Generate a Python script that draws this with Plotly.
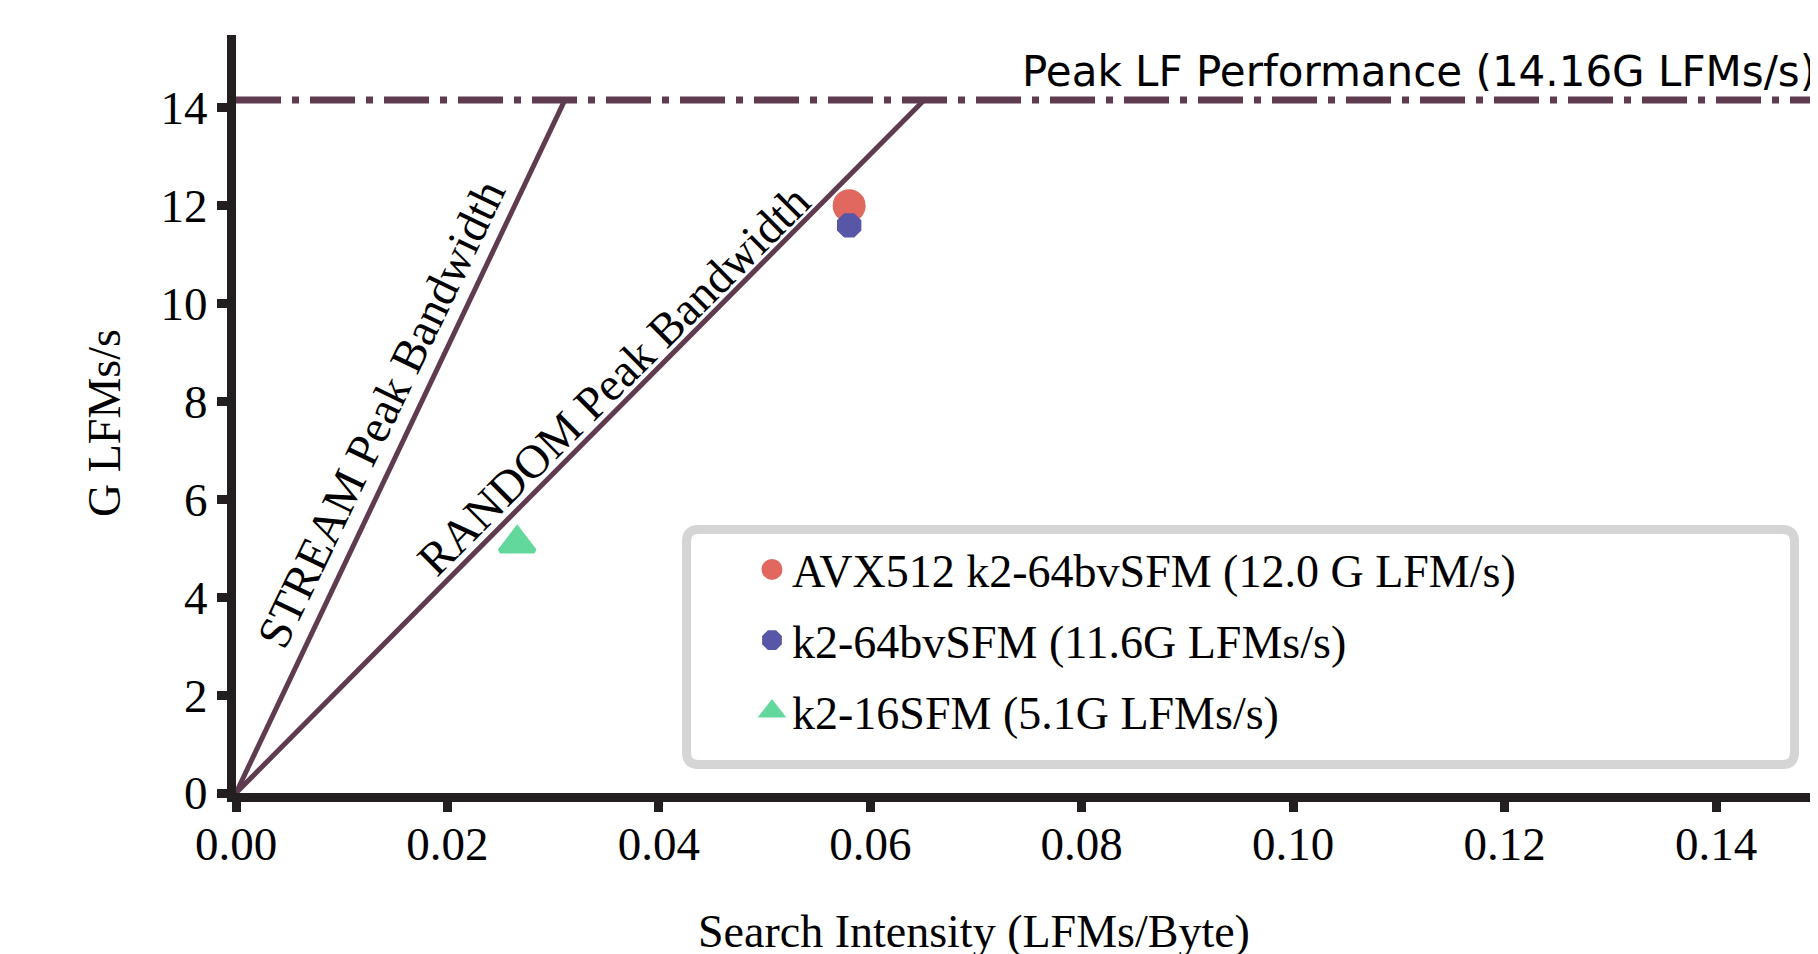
import plotly.graph_objects as go

# ---- data ----
peak_perf = 14.16
peak_x = [0.0, 0.1504]
peak_y = [peak_perf, peak_perf]
stream_x = [0.0, 0.0311]
stream_y = [0.0, 14.16]
random_x = [0.0, 0.0651]
random_y = [0.0, 14.16]

series_names = ["AVX512 k2-64bvSFM (12.0 G LFM/s)",
                "k2-64bvSFM (11.6G LFMs/s)",
                "k2-16SFM (5.1G LFMs/s)"]
series_x = [0.058, 0.058, 0.0266]
series_y = [12.0, 11.6, 5.1]
series_colors = ["#e0685e", "#5856a6", "#63d89d"]
series_symbols = ["circle", "octagon", "triangle-up"]
series_sizes = [28, 21, 30]

x_ticks = [0.00, 0.02, 0.04, 0.06, 0.08, 0.10, 0.12, 0.14]
y_ticks = [0, 2, 4, 6, 8, 10, 12, 14]

LINE = "#5e3b4e"
AXIS = "#231f20"
SERIF = "Liberation Serif, Times New Roman, serif"

# layout geometry (screen pixels; page body has an 8px offset)
OFF = 8
W, H = 1818, 954
L, T, B = 236 - OFF, 35 - OFF, 954 - (793 - OFF)
PW, PH = W - L, H - T - B


def px(sx):
    return (sx - 236) / PW


def py(sy):
    return (793 - sy) / PH


fig = go.Figure()

fig.add_trace(go.Scatter(x=peak_x, y=peak_y, mode="lines", showlegend=False,
                         line=dict(color=LINE, width=7, dash="45px,11px,7px,11px")))
fig.add_trace(go.Scatter(x=stream_x, y=stream_y, mode="lines", showlegend=False,
                         line=dict(color=LINE, width=5)))
fig.add_trace(go.Scatter(x=random_x, y=random_y, mode="lines", showlegend=False,
                         line=dict(color=LINE, width=5)))

for i in range(3):
    fig.add_trace(go.Scatter(
        x=[series_x[i]], y=[series_y[i]], mode="markers", name=series_names[i],
        legendgroup="g%d" % i,
        marker=dict(color=series_colors[i], symbol=series_symbols[i], size=series_sizes[i],
                    line=dict(color=series_colors[i], width=5)),
        cliponaxis=False))

# rounded legend frame
rx, ry = 12 / PW, 12 / PH
x0, x1, y0, y1 = px(686.5), px(1794.5), py(764.5), py(529.5)
path = (f"M {x0+rx},{y1} L {x1-rx},{y1} Q {x1},{y1} {x1},{y1-ry} "
        f"L {x1},{y0+ry} Q {x1},{y0} {x1-rx},{y0} L {x0+rx},{y0} "
        f"Q {x0},{y0} {x0},{y0+ry} L {x0},{y1-ry} Q {x0},{y1} {x0+rx},{y1} Z")
fig.add_shape(type="path", path=path, xref="paper", yref="paper",
              line=dict(color="#d5d5d5", width=9), fillcolor="white", layer="below")

fig.update_layout(
    width=W, height=H,
    margin=dict(l=L, r=0, t=T, b=B),
    paper_bgcolor="white", plot_bgcolor="white",
    font=dict(family=SERIF, size=46, color="black"),
    showlegend=True,
    legend=dict(x=px(752), y=py(533), xanchor="left", yanchor="top",
                bgcolor="rgba(0,0,0,0)", borderwidth=0, tracegroupgap=8,
                font=dict(family=SERIF, size=46, color="black")),
    xaxis=dict(range=[0, 0.1504], tickvals=x_ticks, tickformat=".2f",
               showline=True, linewidth=9, linecolor=AXIS, ticks="outside",
               ticklen=10, tickwidth=9, tickcolor=AXIS, showgrid=False, zeroline=False,
               ticklabelstandoff=-8,
               tickfont=dict(family=SERIF, size=47, color="black")),
    yaxis=dict(range=[0, 15.49], tickvals=y_ticks,
               showline=True, linewidth=9, linecolor=AXIS, ticks="outside",
               ticklen=10, tickwidth=9, tickcolor=AXIS, showgrid=False, zeroline=False,
               tickfont=dict(family=SERIF, size=47, color="black")),
)

fig.add_annotation(text="Search Intensity (LFMs/Byte)", xref="paper", yref="paper",
                   x=px(974), y=py(931), xanchor="center", yanchor="middle",
                   showarrow=False, font=dict(family=SERIF, size=46, color="black"))
fig.add_annotation(text="G LFMs/s", xref="paper", yref="paper", textangle=-90,
                   x=px(104), y=py(423), xanchor="center", yanchor="middle",
                   showarrow=False, font=dict(family=SERIF, size=46, color="black"))
fig.add_annotation(text="Peak LF Performance (14.16G LFMs/s)", x=0.0742, y=peak_perf,
                   xanchor="left", yanchor="bottom", yshift=2, showarrow=False,
                   font=dict(family="DejaVu Sans", size=42, color="black"))
fig.add_annotation(text="STREAM Peak Bandwidth", x=0.0137, y=7.75, textangle=-64.3,
                   xanchor="center", yanchor="middle", showarrow=False,
                   font=dict(family=SERIF, size=47, color="black"))
fig.add_annotation(text="RANDOM Peak Bandwidth", x=0.0357, y=8.45, textangle=-44.8,
                   xanchor="center", yanchor="middle", showarrow=False,
                   font=dict(family=SERIF, size=47, color="black"))

fig.write_html("out.html")
